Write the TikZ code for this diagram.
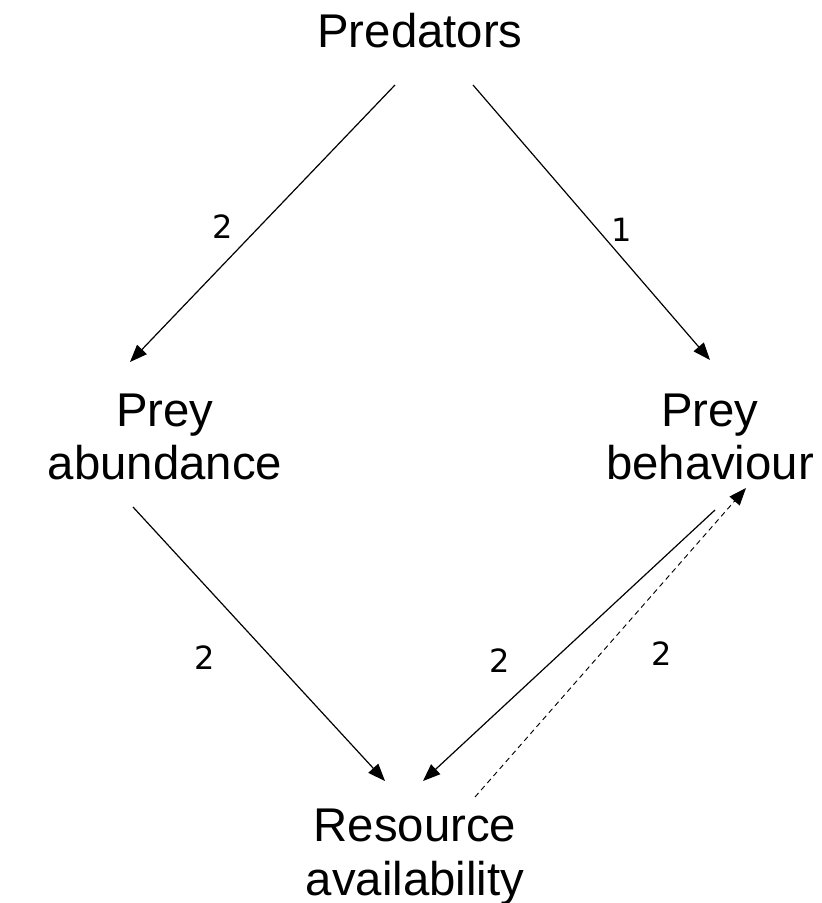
\documentclass[tikz,border=0pt]{standalone}
\usepackage{fontspec}
\setmainfont{Liberation Sans}
\newfontfamily\numfont{DejaVu Sans}
\usetikzlibrary{arrows.meta, calc}

\begin{document}
\begin{tikzpicture}[
    x=0.75pt, y=-0.75pt,
    factor/.style={inner sep=0pt, align=center, font=\fontsize{35.5}{40}\selectfont},
    link/.style={-{Triangle[length=13pt,width=10pt]}, line width=0.9pt},
    weak/.style={link, dash pattern=on 4pt off 3pt, line width=0.7pt},
    lbl/.style={font=\numfont\fontsize{24}{28}\selectfont, inner sep=0pt}
]
\useasboundingbox (0,0) rectangle (821,903);

% factors
\node[factor] (pred) at (420,31) {Predators};
\node[factor] (abund) at (165,437) {Prey\\abundance};
\node[factor] (behav) at (710,437) {Prey\\behaviour};
\node[factor] (res) at (415,857) {Resource\\availability};

% effects
\draw[link] ($(pred)+(-25,54)$) -- ($(abund)+(-35,-75)$)
    node[lbl, pos=0.5, xshift=-30pt, yshift=-2.6pt] (l1) {2};
\draw[link] ($(pred)+(53,54)$) -- ($(behav)+(0,-77)$)
    node[lbl, pos=0.5, xshift=23pt, yshift=-5.6pt] (l2) {1};
\draw[link] ($(abund)+(-32,70)$) -- ($(res)+(-30,-76)$)
    node[lbl, pos=0.5, xshift=-40.5pt, yshift=-10pt] (l3) {2};
\draw[link] ($(behav)+(5,73)$) -- ($(res)+(8,-76)$)
    node[lbl, pos=0.5, xshift=-52pt, yshift=-11pt] (l4) {2};
\draw[weak] ($(res)+(60,-60)$) -- ($(behav)+(36,51)$)
    node[lbl, pos=0.5, xshift=38.6pt, yshift=-8pt] (l5) {2};

\end{tikzpicture}
\end{document}
